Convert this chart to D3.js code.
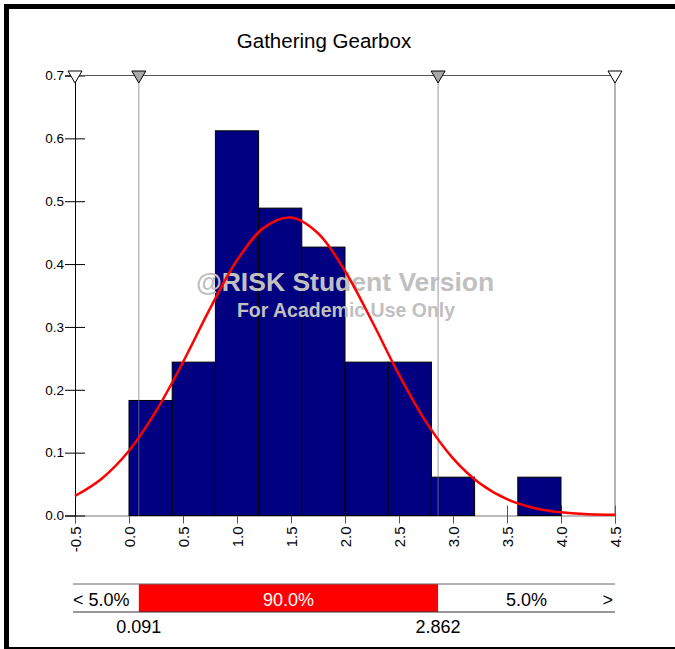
<!DOCTYPE html>
<html>
<head>
<meta charset="utf-8">
<script src="https://cdn.jsdelivr.net/npm/d3@7"></script>
<style>
  body { margin: 0; background: #fff; }
  svg { display: block; font-family: "Liberation Sans", Arial, sans-serif; }
</style>
</head>
<body>
<div id="chart"></div>
<script>
// Histogram bins (lower edges) and densities
var binStarts = [0.0, 0.4, 0.8, 1.2, 1.6, 2.0, 2.4, 2.8, 3.2, 3.6];
var binWidth = 0.4;
var densities = [0.183, 0.244, 0.612, 0.489, 0.427, 0.244, 0.244, 0.061, 0.0, 0.061];

// Fitted curve
var curveX = [-0.5, -0.25, 0.0, 0.25, 0.5, 0.75, 1.0, 1.25, 1.5, 1.75, 2.0, 2.25, 2.5, 2.75, 3.0, 3.25, 3.5, 3.75, 4.0, 4.25, 4.5];
var curveY = [0.031, 0.059, 0.103, 0.166, 0.244, 0.329, 0.406, 0.458, 0.474, 0.449, 0.389, 0.309, 0.224, 0.149, 0.091, 0.051, 0.026, 0.012, 0.005, 0.002, 0.001];

var xTicks = [-0.5, 0.0, 0.5, 1.0, 1.5, 2.0, 2.5, 3.0, 3.5, 4.0, 4.5];
var yTicks = [0.0, 0.1, 0.2, 0.3, 0.4, 0.5, 0.6, 0.7];

// Delimiter markers on top edge
var markerX = [-0.5, 0.091, 2.862, 4.5];
var markerShaded = [false, true, true, false];

// Probability band
var leftPct = "5.0%";
var midPct = "90.0%";
var rightPct = "5.0%";
var lowVal = 0.091;
var highVal = 2.862;

var title = "Gathering Gearbox";

var W = 675, H = 649;
var X0 = 75, X1 = 615, Y0 = 515.5, Y1 = 75.5;

var fmt1 = function (d) { return d.toFixed(1); };

var svg = d3.select('#chart').append('svg')
    .attr('width', W).attr('height', H);

// Outer frame
svg.append('rect').attr('x', 4).attr('y', 4).attr('width', W - 4).attr('height', 5).attr('fill', '#000');
svg.append('rect').attr('x', 4).attr('y', 4).attr('width', 5).attr('height', H - 5).attr('fill', '#000');
svg.append('rect').attr('x', 4).attr('y', H - 2).attr('width', W - 4).attr('height', 2).attr('fill', '#000');

var x = d3.scaleLinear().domain([-0.5, 4.5]).range([X0, X1]);
var y = d3.scaleLinear().domain([0, 0.7]).range([Y0, Y1]);

svg.append('text')
    .attr('x', 324).attr('y', 48)
    .attr('text-anchor', 'middle')
    .attr('font-size', 20.5)
    .text(title);

// Percentile guide lines
svg.append('g').selectAll('line')
    .data(markerX.slice(1, 3))
    .join('line')
    .attr('x1', function (d) { return x(d); }).attr('x2', function (d) { return x(d); })
    .attr('y1', Y1).attr('y2', Y0)
    .attr('stroke', '#c8c8c8').attr('stroke-width', 1);

// X axis (ticks drawn before the bars so bars cover their upper part)
var xAxis = svg.append('g')
    .attr('transform', 'translate(0,' + Y0 + ')')
    .call(d3.axisBottom(x).tickValues(xTicks).tickSize(8).tickFormat(fmt1));
xAxis.select('.domain').attr('stroke', '#777');
xAxis.selectAll('.tick line').attr('y1', -10).attr('y2', 8).attr('stroke', '#555');
xAxis.selectAll('.tick text')
    .attr('font-size', 15)
    .attr('fill', '#000')
    .attr('text-anchor', 'end')
    .attr('transform', 'rotate(-90)')
    .attr('x', -11).attr('y', 0).attr('dy', '0.35em');

// Y axis
var yAxis = svg.append('g')
    .attr('transform', 'translate(' + X0 + ',0)')
    .call(d3.axisLeft(y).tickValues(yTicks).tickSize(10).tickFormat(fmt1));
yAxis.select('.domain').attr('stroke', '#000');
yAxis.selectAll('.tick line').attr('x2', 10).attr('x1', -10).attr('stroke', '#000');
yAxis.selectAll('.tick text').attr('font-size', 13.5).attr('fill', '#000').attr('x', -11);

// Top and right borders of plot
svg.append('line').attr('x1', X0).attr('x2', X1).attr('y1', Y1).attr('y2', Y1).attr('stroke', '#555');
svg.append('line').attr('x1', X1).attr('x2', X1).attr('y1', Y1).attr('y2', Y0).attr('stroke', '#666');

// Bars
svg.append('g').selectAll('rect')
    .data(binStarts.map(function (s, i) { return { s: s, v: densities[i] }; }).filter(function (d) { return d.v > 0; }))
    .join('rect')
    .attr('x', function (d) { return x(d.s); })
    .attr('width', function (d) { return x(d.s + binWidth) - x(d.s); })
    .attr('y', function (d) { return y(d.v); })
    .attr('height', function (d) { return Y0 - y(d.v); })
    .attr('fill', '#000080')
    .attr('stroke', '#000')
    .attr('stroke-width', 1);

// Guide lines again on top of bars (they show through)
svg.append('g').selectAll('line')
    .data(markerX.slice(1, 3))
    .join('line')
    .attr('x1', function (d) { return x(d); }).attr('x2', function (d) { return x(d); })
    .attr('y1', Y1).attr('y2', Y0)
    .attr('stroke', '#9a9aa8').attr('stroke-width', 1).attr('opacity', 0.6);

// Watermark
svg.append('text')
    .attr('x', 345).attr('y', 291)
    .attr('text-anchor', 'middle')
    .attr('font-size', 26.5).attr('font-weight', 'bold')
    .attr('fill', '#c0c0c0')
    .text('@RISK Student Version');
svg.append('text')
    .attr('x', 346).attr('y', 317)
    .attr('text-anchor', 'middle')
    .attr('font-size', 19.5).attr('font-weight', 'bold')
    .attr('fill', '#c0c0c0')
    .text('For Academic Use Only');

// Fitted curve
var line = d3.line()
    .x(function (d) { return x(d[0]); })
    .y(function (d) { return y(d[1]); })
    .curve(d3.curveCatmullRom);
svg.append('path')
    .datum(curveX.map(function (v, i) { return [v, curveY[i]]; }))
    .attr('d', line)
    .attr('fill', 'none')
    .attr('stroke', '#ff0000')
    .attr('stroke-width', 2.5);

// Delimiter triangles
svg.append('g').selectAll('path')
    .data(markerX.map(function (v, i) { return { v: v, shaded: markerShaded[i] }; }))
    .join('path')
    .attr('d', function (d) {
        var cx = x(d.v);
        return 'M' + (cx - 7) + ',' + (Y1 - 4.5) + 'L' + (cx + 7) + ',' + (Y1 - 4.5) + 'L' + cx + ',' + (Y1 + 7.5) + 'Z';
    })
    .attr('fill', function (d) { return d.shaded ? '#a8a8a8' : '#fff'; })
    .attr('stroke', '#000').attr('stroke-width', 1);

// Probability band
var bandTop = 584, bandBot = 612;
svg.append('rect')
    .attr('x', x(lowVal)).attr('y', bandTop)
    .attr('width', x(highVal) - x(lowVal)).attr('height', bandBot - bandTop)
    .attr('fill', '#ff0000');
svg.append('line').attr('x1', 73).attr('x2', X1).attr('y1', bandTop).attr('y2', bandTop).attr('stroke', '#666');
svg.append('line').attr('x1', 73).attr('x2', X1).attr('y1', bandBot).attr('y2', bandBot).attr('stroke', '#333');

var band = svg.append('g').attr('font-size', 18);
band.append('text').attr('x', 73).attr('y', 606).text('< ' + leftPct);
band.append('text').attr('x', (x(lowVal) + x(highVal)) / 2).attr('y', 606)
    .attr('text-anchor', 'middle').attr('fill', '#fff').text(midPct);
band.append('text').attr('x', (x(highVal) + X1) / 2).attr('y', 606)
    .attr('text-anchor', 'middle').text(rightPct);
band.append('text').attr('x', X1 - 2).attr('y', 606).attr('text-anchor', 'end').text('>');
band.append('text').attr('x', x(lowVal)).attr('y', 633).attr('text-anchor', 'middle').text(d3.format('.3f')(lowVal));
band.append('text').attr('x', x(highVal)).attr('y', 633).attr('text-anchor', 'middle').text(d3.format('.3f')(highVal));
</script>
</body>
</html>
